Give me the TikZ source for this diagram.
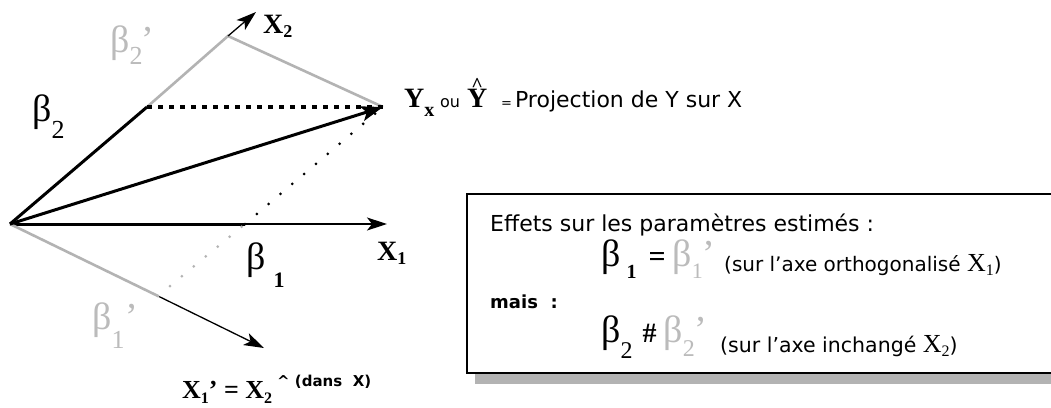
\documentclass[tikz,border=0pt]{standalone}
\usepackage{fontspec}
\setmainfont{Liberation Serif}
\newfontfamily\sfgen{DejaVu Sans}
\usetikzlibrary{arrows.meta}
\definecolor{lg}{HTML}{B3B3B3}
\definecolor{lgt}{HTML}{BBBBBB}
\newcommand{\fs}[1]{\fontsize{#1}{#1}\selectfont}
\tikzset{
  thickline/.style={line width=3pt, black},
  thinarrow/.style={line width=1.3pt, black, -{Stealth[length=20pt,width=13pt,inset=5pt]}},
  bigarrow/.style={line width=3pt, black, -{Stealth[length=22pt,width=15pt,inset=5pt]}},
  grayline/.style={line width=2.6pt, lg},
  bigdots/.style={line width=4pt, dash pattern=on 4.5pt off 6.5pt},
  smalldots/.style={line width=3pt, line cap=round, dash pattern=on 0pt off 15.5pt},
  lbl/.style={inner sep=0pt, anchor=base west},
}
\begin{document}
\begin{tikzpicture}[x=1pt,y=-1pt]
\useasboundingbox (0,0) rectangle (1051,407);
\clip (0,0) rectangle (1051,407);
\fill[white] (0,0) rectangle (1051,407);
% points
\coordinate (O) at (10,224);
\coordinate (B2) at (147,107);
\coordinate (B1) at (245,224);
\coordinate (Y) at (383,107);
\coordinate (C2) at (228,36);
\coordinate (T2) at (256,12);
\coordinate (T1) at (387,224);
\coordinate (C1) at (158,296);
\coordinate (T1p) at (264,348);
% lines
\draw[thinarrow] (B1) -- (T1);
\draw[thickline] (O) -- (B1);
\draw[grayline] (B2) -- (C2) -- (Y);
\draw[thinarrow] (C2) -- (T2);
\draw[thickline] (O) -- (B2);
\draw[bigdots] (B2) -- (Y);
\draw[smalldots] (B1) -- (Y);
\draw[grayline] (O) -- (C1);
\draw[thinarrow] (C1) -- (T1p);
\draw[smalldots, lg] (C1) -- (B1);
\draw[bigarrow] (O) -- (Y);
% diagram labels
\node[lbl] (lb2) at (32,121) {\fs{38}β\raisebox{-17pt}{\fs{26}2}};
\node[lbl, text=lgt] (lb2p) at (110,52) {\fs{38}β\raisebox{-12pt}{\fs{26}2}\kern-1pt’};
\node[lbl] (lb1) at (246,269) {\fs{38}β\kern8pt\raisebox{-18pt}{\fs{22}\bfseries 1}};
\node[lbl, text=lgt] (lb1p) at (92,329) {\fs{38}β\raisebox{-19pt}{\fs{26}1}\kern1pt’};
\node[lbl] (lx2) at (263,33) {\bfseries\fs{28}X\raisebox{-4pt}{\fs{18}2}};
\node[lbl] (lx1) at (377,260) {\bfseries\fs{28}X\raisebox{-4pt}{\fs{18}1}};
\node[lbl] (lyx) at (404,107) {\bfseries\fs{28}Y\raisebox{-9pt}{\fs{20}x}};
\node[lbl] (lou) at (440,107) {\sfgen\fs{16}ou};
\node[lbl] (lyh) at (467,107) {\bfseries\fs{28}\rlap{\kern4.2pt\raisebox{16pt}{\fs{20}\textasciicircum}}Y};
\node[lbl] (lproj) at (501,107) {\sfgen{\fs{13}=}\kern3pt\fs{22}Projection de Y sur X};
\node[lbl] (lx1p) at (182,398) {\bfseries\fs{26}X\raisebox{-5pt}{\fs{16}1}’ = X\raisebox{-5pt}{\fs{16}2}};
\node[lbl] (ldans) at (277,386) {\sfgen\bfseries\fs{15}\textasciicircum\ (dans\ \ X)};
% box
\fill[lg] (475,202) rectangle (1060,384);
\draw[fill=white, line width=1.3pt] (467,194) rectangle (1058,373);
\node[lbl] (lhead) at (490,231) {\sfgen\fs{22}Effets sur les paramètres estimés :};
\node[lbl] (lmais) at (490,308) {\sfgen\bfseries\fs{18}mais\ \ :};
\node[lbl] (lrow1) at (601,266) {\fs{38}β\kern6pt\raisebox{-12pt}{\fs{20}\bfseries 1}\kern12pt{\bfseries\fs{30}=}\kern7pt{\color{lgt}β\raisebox{-12pt}{\fs{22}1}’}};
\node[lbl] (ltxt1) at (724,271) {\sfgen\fs{20}(sur l’axe orthogonalisé {\rmfamily\fs{26}X\raisebox{-4pt}{\fs{16}1}})};
\node[lbl] (lrow2) at (601,342) {\fs{38}β\raisebox{-16pt}{\fs{24}2}\kern10pt{\bfseries\fs{28}\#}\kern7pt{\color{lgt}β\raisebox{-14pt}{\fs{24}2}’}};
\node[lbl] (ltxt2) at (720,352) {\sfgen\fs{20.5}(sur l’axe inchangé {\rmfamily\fs{26}X\raisebox{-4pt}{\fs{16}2}})};
\end{tikzpicture}
\end{document}
